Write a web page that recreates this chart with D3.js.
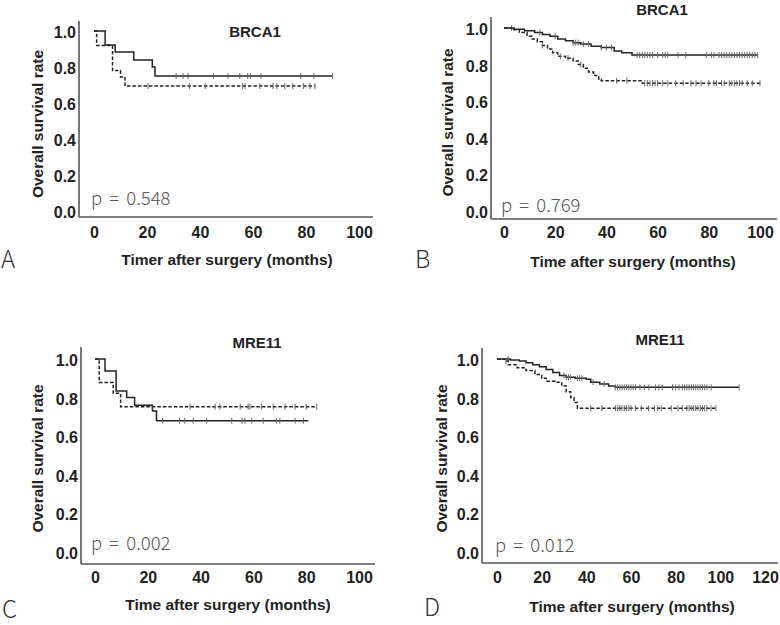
<!DOCTYPE html>
<html><head><meta charset="utf-8">
<script src="https://cdn.jsdelivr.net/npm/d3@7"></script>
<style>
html,body{margin:0;padding:0;background:#fff;}
svg{display:block;}
</style></head>
<body>
<svg id="chart" width="780" height="625"></svg>
<script>
// ---------- DATA ----------
const timeTicks100 = [0, 20, 40, 60, 80, 100];
const timeTicks120 = [0, 20, 40, 60, 80, 100, 120];
const survTicks = [0.0, 0.2, 0.4, 0.6, 0.8, 1.0];
const panelLetters = ["A", "B", "C", "D"];
const panelTitles = ["BRCA1", "BRCA1", "MRE11", "MRE11"];
const pValues = ["p = 0.548", "p = 0.769", "p = 0.002", "p = 0.012"];
const xTitles = ["Timer after surgery (months)", "Time after surgery (months)", "Time after surgery (months)", "Time after surgery (months)"];
const yTitle = "Overall survival rate";

// Panel A (BRCA1, small cohort)
const aSolidT = [0, 4.2, 8, 15, 22, 23, 90];
const aSolidS = [1.0, 0.922, 0.883, 0.839, 0.80, 0.75, 0.75];
const aSolidCensor = [31, 33.6, 35.5, 45, 50.6, 55, 58, 59, 63, 78, 83, 90];
const aDashT = [0, 1, 7, 10, 11.7, 83.4];
const aDashS = [1.0, 0.92, 0.78, 0.745, 0.694, 0.694];
const aDashCensor = [20.4, 36, 42, 56, 57, 62.6, 67.5, 69, 72, 75, 79, 81.5, 83.4];

// Panel B (BRCA1, large cohort)
const bSolidT = [0, 4, 8, 12, 15, 18, 21, 24, 27, 30, 34, 38, 43, 46, 50, 99];
const bSolidS = [1.0, 0.993, 0.985, 0.975, 0.965, 0.955, 0.94, 0.93, 0.92, 0.912, 0.90, 0.893, 0.875, 0.865, 0.852, 0.852];
const bSolidCensor = [3, 14, 20, 27, 28, 29, 31, 33, 38, 40, 42, 52, 53, 54, 55, 56, 57, 58, 60, 62, 63, 64, 68, 71, 79, 81, 82, 84, 85, 86, 87, 88, 89, 90, 91, 92, 93, 94, 95, 96, 97, 98, 99];
const bDashT = [0, 3, 6, 9, 11, 13, 15, 17, 19, 21, 24, 27, 29, 31, 33, 35, 37, 38, 54, 100];
const bDashS = [1.0, 0.99, 0.975, 0.955, 0.94, 0.925, 0.905, 0.885, 0.865, 0.845, 0.835, 0.82, 0.80, 0.78, 0.76, 0.74, 0.72, 0.712, 0.698, 0.698];
const bDashCensor = [15, 22, 25, 30, 44, 48, 55, 56, 57, 58, 59, 60, 62, 64, 67, 70, 73, 75, 77, 80, 82, 83, 85, 86, 88, 89, 90, 91, 92, 93, 95, 97, 100];

// Panel C (MRE11, small cohort)
const cSolidT = [0, 3.8, 8, 12, 15, 21.8, 23.3, 80.8];
const cSolidS = [1.0, 0.938, 0.834, 0.80, 0.76, 0.73, 0.68, 0.68];
const cSolidCensor = [25.6, 32, 34, 37.2, 42.3, 51.8, 55.7, 56.8, 59.4, 63.7, 68.8, 70, 75.8, 79];
const cDashT = [0, 1.6, 6.9, 9.7, 84];
const cDashS = [1.0, 0.878, 0.822, 0.753, 0.753];
const cDashCensor = [21.6, 36, 45.5, 47.3, 55, 58, 58.7, 63, 67.5, 72, 75.8, 80, 84];

// Panel D (MRE11, large cohort)
const dSolidT = [0, 6, 10, 13, 16, 19, 22, 25, 28, 31, 35, 40, 42, 46, 50, 53, 108.4];
const dSolidS = [1.0, 0.995, 0.99, 0.98, 0.97, 0.96, 0.945, 0.93, 0.915, 0.905, 0.90, 0.895, 0.88, 0.87, 0.86, 0.853, 0.853];
const dSolidCensor = [5, 30, 31, 32, 33, 36, 37, 38, 43, 48, 53, 54, 55, 56, 57, 58, 59, 60, 61, 62, 64, 66, 68, 71, 72.5, 74, 78.6, 80, 81.5, 83, 84, 85, 86, 87, 88, 89, 90, 91, 92, 93, 94, 95.9, 108.4];
const dDashT = [0, 4, 5, 9, 13, 17, 20, 22, 26, 29, 31, 33, 34.5, 36, 98];
const dDashS = [1.0, 0.99, 0.97, 0.955, 0.94, 0.92, 0.90, 0.885, 0.88, 0.86, 0.83, 0.80, 0.775, 0.745, 0.745];
const dDashCensor = [4, 42, 47, 53, 54, 55, 56, 57, 58, 59, 60, 62, 64.6, 67.8, 70.5, 72, 73.5, 78, 81, 83, 85, 86, 87, 88, 89, 90, 91, 92, 93, 94, 95.8, 98];

// ---------- LAYOUT ----------
const panels = [
  { xMax:100, xTicks: timeTicks100, xr:[94,359], yr:[211,31], axX:79, axTop:21, axY:217, axRight:373,
    solid:[aSolidT,aSolidS,aSolidCensor], dash:[aDashT,aDashS,aDashCensor],
    title:[255,37], p:[91,205], xt:[227,265], ytx:38, letter:[1,268], xtickY:238 },
  { xMax:100, xTicks: timeTicks100, xr:[504,760], yr:[211,28], axX:491, axTop:17, axY:219, axRight:777,
    solid:[bSolidT,bSolidS,bSolidCensor], dash:[bDashT,bDashS,bDashCensor],
    title:[662,15], p:[501,212], xt:[633,267], ytx:448, letter:[415,268], xtickY:238 },
  { xMax:100, xTicks: timeTicks100, xr:[95,359], yr:[552,359], axX:81, axTop:347, axY:564, axRight:375,
    solid:[cSolidT,cSolidS,cSolidCensor], dash:[cDashT,cDashS,cDashCensor],
    title:[257,348], p:[91,550], xt:[228,610], ytx:38, letter:[2,618], xtickY:583 },
  { xMax:120, xTicks: timeTicks120, xr:[497,765], yr:[552,359], axX:482, axTop:348, axY:563, axRight:778,
    solid:[dSolidT,dSolidS,dSolidCensor], dash:[dDashT,dDashS,dDashCensor],
    title:[660,345], p:[495,552], xt:[632,612], ytx:442, letter:[424,616], xtickY:583 }
];

const svg = d3.select("#chart");
const boldFont = "'Liberation Sans', Arial, sans-serif";
const lightFont = "'Noto Sans CJK KR', 'Noto Sans', sans-serif";
const ink = "#222";

function valueAt(T, S, t) {
  let v = S[0];
  for (let i = 0; i < T.length; i++) { if (T[i] <= t) v = S[i]; }
  return v;
}

panels.forEach((p, i) => {
  const g = svg.append("g");
  const x = d3.scaleLinear().domain([0, p.xMax]).range(p.xr);
  const y = d3.scaleLinear().domain([0, 1]).range(p.yr);

  // axis lines
  g.append("line").attr("x1", p.axX).attr("x2", p.axX).attr("y1", p.axTop).attr("y2", p.axY)
    .attr("stroke", "#555").attr("stroke-width", 1.6);
  g.append("line").attr("x1", p.axX).attr("x2", p.axRight).attr("y1", p.axY).attr("y2", p.axY)
    .attr("stroke", "#555").attr("stroke-width", 1.6);

  // y ticks via axis generator (no tick lines)
  const yAxis = d3.axisLeft(y).tickValues(survTicks).tickFormat(d3.format(".1f")).tickSize(0).tickPadding(0);
  const ya = g.append("g").attr("transform", `translate(${p.axX - 3},0)`).call(yAxis);
  ya.select(".domain").remove();
  ya.selectAll("text").attr("font-family", boldFont).attr("font-weight", "bold")
    .attr("font-size", 16).attr("fill", ink).attr("dy", "0.4em");

  // x ticks
  const xAxis = d3.axisBottom(x).tickValues(p.xTicks).tickFormat(d3.format("d")).tickSize(0).tickPadding(0);
  const xa = g.append("g").attr("transform", `translate(0,${p.xtickY})`).call(xAxis);
  xa.select(".domain").remove();
  xa.selectAll("text").attr("font-family", boldFont).attr("font-weight", "bold")
    .attr("font-size", 16).attr("fill", ink).attr("dy", "0");

  // curves
  const line = d3.line().curve(d3.curveStepAfter).x(d => x(d[0])).y(d => y(d[1]));
  [["solid", null], ["dash", "3.5,2"]].forEach(([key, dash]) => {
    const [T, S, C] = p[key];
    const pts = T.map((t, k) => [t, S[k]]);
    g.append("path").datum(pts).attr("d", line).attr("fill", "none")
      .attr("stroke", "#222").attr("stroke-width", 1.5)
      .attr("stroke-dasharray", dash);
    g.selectAll(null).data(C).enter().append("line")
      .attr("x1", d => x(d)).attr("x2", d => x(d))
      .attr("y1", d => y(valueAt(T, S, d)) - 3).attr("y2", d => y(valueAt(T, S, d)) + 3)
      .attr("stroke", "#666").attr("stroke-width", 1);
  });

  // title
  g.append("text").attr("x", p.title[0]).attr("y", p.title[1]).attr("text-anchor", "middle")
    .attr("font-family", boldFont).attr("font-weight", "bold").attr("font-size", 15).attr("fill", ink)
    .text(panelTitles[i]);
  // p value
  g.append("text").attr("x", p.p[0]).attr("y", p.p[1])
    .attr("font-family", lightFont).attr("font-weight", 300).attr("word-spacing", 3)
    .attr("font-size", 18.5).attr("fill", "#555").text(pValues[i]);
  // x title
  g.append("text").attr("x", p.xt[0]).attr("y", p.xt[1]).attr("text-anchor", "middle")
    .attr("font-family", boldFont).attr("font-weight", "bold").attr("font-size", 15.5).attr("fill", ink)
    .text(xTitles[i]);
  // y title
  const ymid = (p.yr[0] + p.yr[1]) / 2 + 3;
  g.append("text").attr("transform", `translate(${p.ytx + 5},${ymid}) rotate(-90)`).attr("text-anchor", "middle")
    .attr("font-family", boldFont).attr("font-weight", "bold").attr("font-size", 15.5).attr("fill", ink)
    .text(yTitle);
  // panel letter
  g.append("text").attr("x", p.letter[0]).attr("y", p.letter[1])
    .attr("font-family", lightFont).attr("font-weight", 300)
    .attr("font-size", 24).attr("fill", "#333").text(panelLetters[i]);
});
</script>
</body></html>
